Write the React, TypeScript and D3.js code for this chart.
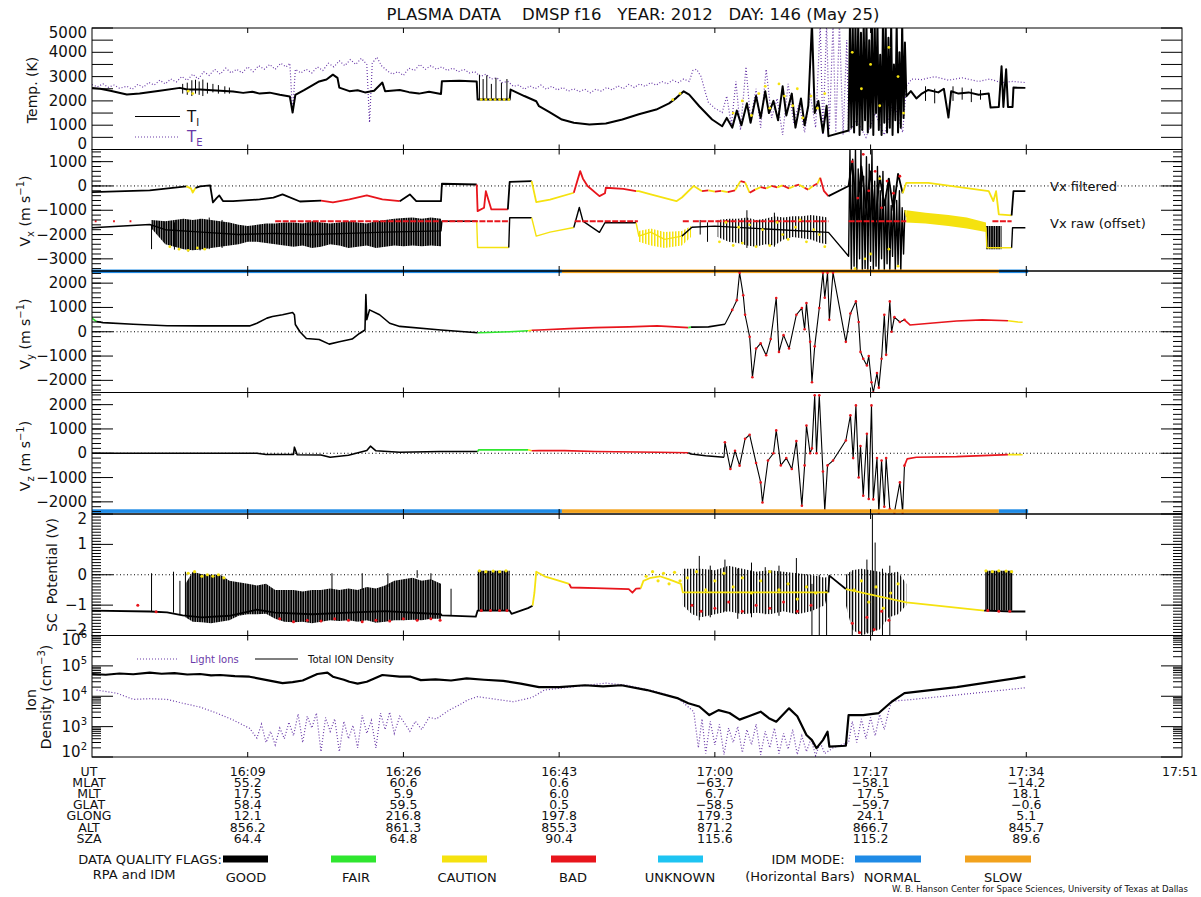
import React from 'react';
import * as d3 from 'd3';

type Pt = [number, number];
type FPt = [number, number, number];
type Band = [number, number, number];

// ---------------------------------------------------------------------------
// Time base: all times are minutes after 15:52 UT; the plot spans 119 minutes.
// ---------------------------------------------------------------------------
const T_SPAN = 119;
const UT_TICKS = [17, 34, 51, 68, 85, 102];

// Ephemeris table below the plot
const UT_LABELS = ['16:09', '16:26', '16:43', '17:00', '17:17', '17:34'];
const UT_END_LABEL = '17:51';
const MLAT = ['55.2', '60.6', '0.6', '\u221263.7', '\u221258.1', '\u221214.2'];
const MLT = ['17.5', '5.9', '6.0', '6.7', '17.5', '18.1'];
const GLAT = ['58.4', '59.5', '0.5', '\u221258.5', '\u221259.7', '\u22120.6'];
const GLONG = ['12.1', '216.8', '197.8', '179.3', '24.1', '5.1'];
const ALT = ['856.2', '861.3', '855.3', '871.2', '866.7', '845.7'];
const SZA = ['64.4', '64.8', '90.4', '115.6', '115.2', '89.6'];

// Data quality flags: 0 good, 1 fair, 2 caution, 3 bad, 4 good line with bad samples
const QUALITY_NAMES = ['GOOD', 'FAIR', 'CAUTION', 'BAD', 'UNKNOWN'];
const IDM_NAMES = ['NORMAL', 'SLOW'];

// IDM mode intervals [start, end, mode index]
const IDM_MODE: FPt[] = [[0, 51.3, 0], [51.3, 99, 1], [99, 102.2, 0]];

// ------------------------------- Temperature -------------------------------
const TI: Pt[] = [
  [0, 2536], [0.9, 2500], [2, 2420], [3.8, 2260], [5.2, 2300], [7.4, 2420], [9.6, 2536], [10.4, 2470],
  [11.8, 2466], [14, 2420], [15.4, 2384], [16.5, 2330], [17.5, 2380], [18.3, 2300], [19.4, 2340], [20.5, 2250],
  [21.6, 2180], [21.9, 1520], [22.2, 2250],
  [23.2, 2450], [24.1, 2650], [24.8, 2800], [25.6, 2880], [26.3, 3080], [26.8, 2950], [27, 2548], [28.1, 2400],
  [29, 2440], [29.8, 2350], [30.8, 2420], [31.7, 2754], [32, 2400], [33.6, 2450], [34.6, 2360], [35.7, 2300],
  [36.8, 2380], [38.1, 2280], [38.2, 2807],
  [40.1, 2830], [42, 2800], [42.1, 2055], [45.6, 2055], [45.7, 2466], [47.2, 2200], [48.5, 1985], [48.8, 1780],
  [49.9, 1550], [51.3, 1233], [52.6, 1100], [54.3, 1028], [56.1, 1069], [57.9, 1233], [59.7, 1450], [61.6, 1644],
  [63, 1900], [63.8, 2125], [64.6, 2396], [65.2, 2260], [66.3, 1780], [67.7, 1233], [68.8, 958],
  [69.3, 1300], [69.9, 900], [70.4, 1600], [70.9, 1000], [71.5, 1900], [71.9, 1100], [72.5, 2200], [73, 1300],
  [73.5, 2400], [73.9, 1500], [74.4, 2000], [74.9, 1200], [75.4, 2600], [75.8, 1400], [76.4, 2300], [76.8, 900],
  [77.4, 2100], [77.8, 1000], [78.2, 1800], [78.6, 5200], [78.9, 1500], [79.3, 2000], [79.8, 700], [80.2, 1800],
  [80.4, 550], [82.6, 780],
  [82.75, 5200], [82.9, 900], [83.05, 5200], [83.2, 700], [83.35, 5200], [83.5, 1000], [83.65, 5200],
  [83.8, 600], [83.95, 4800], [84.1, 800], [84.25, 5200], [84.4, 1200], [84.55, 5200], [84.7, 700],
  [84.85, 4500], [85, 900], [85.15, 5200], [85.3, 600], [85.45, 5200], [85.6, 1500], [85.75, 5200],
  [85.9, 800], [86.05, 3900], [86.2, 600], [86.35, 5200], [86.5, 1100], [86.65, 5200], [86.8, 700],
  [86.95, 4600], [87.1, 900], [87.25, 5200], [87.4, 600], [87.55, 3500], [87.7, 1200], [87.85, 5200],
  [88, 700], [88.15, 4000], [88.3, 900], [88.45, 5200], [88.6, 1300], [88.75, 4400], [88.9, 2190],
  [89.4, 2400], [90, 2100], [90.6, 2300], [91.3, 2450], [92.4, 2350], [93, 2500], [93.5, 1315], [93.8, 2400],
  [94.6, 2300], [95.7, 2350], [96.8, 2250], [97.9, 2300], [98.1, 1726], [99, 1750], [99.3, 3424], [99.5, 1750],
  [99.8, 3300], [100, 1750], [100.5, 1750], [100.6, 2548], [101.9, 2536],
];

const TI_SPIKES: Band[] = [
  [9.9, 2300, 2700], [10.4, 2250, 2750], [10.9, 2200, 2850], [11.3, 2300, 2870], [11.7, 2250, 2800],
  [12.1, 2200, 2880], [12.6, 2300, 2750], [13.2, 2350, 2700], [13.8, 2300, 2650], [14.5, 2300, 2600],
  [15, 2300, 2550],
  [42.3, 2055, 3080], [42.7, 2055, 2900], [43.1, 2055, 3050], [43.6, 2055, 2700], [44.1, 2055, 2950],
  [44.7, 2055, 2750], [45.3, 2055, 2900],
  [91, 2000, 2600], [92, 1900, 2500], [94, 2000, 2600], [95, 2050, 2550], [96, 1950, 2500], [97, 2050, 2450],
];

const TE: Pt[] = [
  [0, 2672], [0.6, 2580], [1.2, 2700], [1.8, 2560], [2.4, 2650], [3, 2520], [3.8, 2600], [4.4, 2480], [5, 2680],
  [5.6, 2560], [6.2, 2760], [6.8, 2650], [7.4, 2850], [8, 2700], [8.6, 2900], [9.2, 2780], [9.8, 3000], [10.4, 2850],
  [11, 3100], [11.6, 2900], [12.2, 3200], [12.8, 3050], [13.4, 3300], [14, 3100], [14.6, 3350], [15.2, 3150],
  [15.8, 3300], [16.4, 3150], [17, 3400], [17.6, 3200], [18.2, 3450], [18.8, 3300], [19.4, 3500], [20, 3300],
  [20.6, 3550], [21.2, 3400], [21.6, 3550], [21.9, 1520], [22.2, 3300], [22.8, 3150], [23.4, 3300], [24, 3150],
  [24.6, 3400], [25.2, 3250], [25.8, 3550], [26.4, 3400], [27, 3650], [27.6, 3450], [28.2, 3700], [28.8, 3500],
  [29.4, 3750], [30, 3500], [30.3, 1110], [30.6, 3550], [31.1, 3800], [31.6, 3450], [32.2, 3250], [32.8, 3100],
  [33.4, 3200], [34, 3050], [34.6, 3350], [35.2, 3250], [35.8, 3500], [36.4, 3300], [37, 3450], [37.6, 3300],
  [38.2, 3400], [38.8, 3250], [39.4, 3350], [40, 3200], [40.6, 3300], [41.2, 3150], [41.8, 3200], [42.4, 3000],
  [43, 3100], [43.6, 2900], [44.2, 2950], [44.8, 2750], [45.4, 2800], [46, 2600], [46.6, 2650], [47.2, 2480],
  [47.8, 2620], [48.4, 2500], [49, 2650], [49.6, 2480], [50.2, 2600], [50.8, 2450], [51.4, 2550], [52, 2400],
  [52.6, 2500], [53.2, 2380], [53.8, 2480], [54.4, 2330], [55, 2480], [55.6, 2400], [56.2, 2550], [56.8, 2450],
  [57.4, 2620], [58, 2500], [58.6, 2680], [59.2, 2550], [59.8, 2700], [60.4, 2600], [61, 2750], [61.6, 2650],
  [62.2, 2800], [62.8, 2700], [63.4, 2850], [64, 2750], [64.6, 2900], [65.2, 2800], [65.6, 3250], [66, 3300],
  [66.5, 3000], [67, 2300], [67.3, 1932], [68, 1700], [68.8, 1520],
  [69.3, 2200], [69.8, 1000], [70.3, 2800], [70.8, 800], [71.4, 3400], [71.9, 1200], [72.5, 2500], [73, 900],
  [73.6, 3300], [74.2, 1300], [74.8, 2100], [75.4, 600], [76, 2700], [76.6, 1100], [77.2, 1900], [77.8, 700],
  [78.4, 2300], [79, 900], [79.5, 5200], [79.8, 600], [80.2, 5200], [80.5, 800], [80.9, 5200], [81.2, 700],
  [81.6, 5200], [82, 600], [82.4, 4500], [82.6, 700],
  [83.5, 1200], [84.5, 500], [85.5, 1500], [86.5, 600], [87.5, 2000], [88.5, 700], [88.9, 2600], [89.5, 2900],
  [90.6, 2877], [92, 3000], [93.5, 2850], [95, 2950], [96.8, 2800], [98, 2900], [99.3, 2750], [100.5, 2800],
  [101.9, 2754],
];

const TI_CAUTION: Pt[] = [
  [10.5, 2400], [11, 2300], [42.5, 2055], [43, 2055], [43.5, 2055], [44, 2055], [44.5, 2055], [45, 2055],
  [45.5, 2055], [63.4, 2050], [64.2, 2300], [70, 1500], [71, 2000], [72, 1400], [72.8, 2300], [73.5, 2600],
  [74, 1700], [75, 2700], [75.6, 2200], [76.5, 1800], [77, 2500], [77.6, 1300], [78.5, 2200], [79.2, 1700],
  [80, 2300], [83, 4000], [84, 2500], [85, 3500], [86, 1800], [87, 4200], [88, 3000], [88.6, 1500],
];

// ------------------------------------ Vx ------------------------------------
const VX_FILTERED: FPt[] = [
  [0, -255, 0], [6.3, -185, 0], [10.3, -20, 0], [10.8, -100, 2], [11, -270, 2], [11.3, -80, 2], [11.8, -20, 0],
  [12.9, 20, 0], [13.2, -680, 0], [13.6, -500, 0], [13.9, -390, 0], [14.3, -620, 0], [15.4, -625, 0],
  [18.3, -555, 0], [19.8, -480, 0], [20.8, -350, 0], [22.7, -640, 0], [25, -600, 0], [26.3, -680, 3],
  [28.1, -555, 3], [30, -390, 3], [31.7, -555, 3], [33.6, -625, 3], [34.7, -350, 0], [35.4, -625, 0],
  [38.1, -625, 0], [38.2, 90, 0], [42, 60, 0], [42.1, -1035, 3], [42.8, -900, 3], [43, -215, 3], [43.3, -600, 3],
  [43.6, -965, 3], [45.4, -965, 3], [45.6, 170, 0], [48, 200, 0], [48.5, -665, 2], [50, -560, 2], [52.6, -280, 2],
  [53.3, 610, 3], [53.6, 300, 3], [54.1, 0, 3], [55.4, -420, 3], [56, -300, 3], [56.1, -75, 3], [58, -120, 3],
  [59.4, -215, 3], [59.7, -215, 2], [61, -350, 2], [63.8, -625, 2], [64.4, -475, 2], [65.7, 0, 2], [66.6, -215, 2],
  [67.3, -180, 3], [68, -230, 2], [68.7, -200, 3], [69.4, -250, 2], [70.2, -180, 3], [70.8, 200, 2], [71.3, 150, 3],
  [71.8, -280, 2], [72.4, -150, 3], [73, -50, 2], [73.6, -100, 3], [74.2, 0, 2], [74.8, -60, 3], [75.4, 20, 2],
  [76.1, -100, 3], [76.7, 0, 2], [77.2, 50, 3], [77.8, -80, 2], [78.2, -150, 3], [78.7, 0, 2], [79.2, 100, 3],
  [79.5, 340, 2], [79.9, -200, 3], [80.4, -420, 3], [82.6, 0, 0],
  [83, 1000, 0], [83.5, -1200, 0], [84, 800, 0], [84.5, -900, 0], [85, 600, 0], [85.5, -1500, 0], [86, 400, 0],
  [86.5, -800, 0], [87, 300, 0], [87.5, -1000, 0], [88, 500, 0], [88.5, -300, 0],
  [88.9, 130, 2], [91.3, 130, 2], [97.9, -215, 2], [98.4, -625, 2], [98.7, -215, 2], [99, -1170, 2],
  [100.4, -1215, 2], [100.6, -215, 0], [101.9, -215, 0],
];

const VX_RAW: FPt[] = [
  [0, -1720, 0], [6.3, -1585, 0], [8, -1800, 0], [12, -1900, 0], [16, -2000, 0], [20, -1950, 0], [24, -2000, 0],
  [28, -1950, 0], [32, -1900, 0], [38.1, -1850, 0], [38.2, -1450, 0], [42, -1450, 0], [42.1, -2530, 2],
  [45.5, -2530, 2], [45.6, -1310, 0], [48, -1310, 0], [48.5, -2065, 2], [50, -1900, 2], [52.6, -1710, 2],
  [53.2, -885, 0], [53.6, -1450, 0], [55.4, -1910, 0], [56, -1515, 0], [59.4, -1515, 0], [59.7, -2065, 2],
  [61, -1900, 2], [62.5, -2200, 2], [64.4, -2065, 2], [65.5, -1700, 0], [68, -1655, 0], [80.4, -1910, 0],
  [82.6, -2890, 0],
  [82.75, 1500, 0], [82.9, -3500, 0], [83.05, 1100, 0], [83.2, -3300, 0], [83.35, 1500, 0], [83.5, -3500, 0],
  [83.65, 700, 0], [83.8, -3000, 0], [83.95, 1500, 0], [84.1, -3500, 0], [84.25, 400, 0], [84.4, -3400, 0],
  [84.55, 1200, 0], [84.7, -3500, 0], [84.85, 900, 0], [85, -3100, 0], [85.15, 1500, 0], [85.3, -3500, 0],
  [85.45, 200, 0], [85.6, -3300, 0], [85.75, 800, 0], [85.9, -3500, 0], [86.05, -200, 0], [86.2, -3000, 0],
  [86.35, 600, 0], [86.5, -3500, 0], [86.65, -400, 0], [86.8, -3200, 0], [86.95, 300, 0], [87.1, -3500, 0],
  [87.25, -800, 0], [87.4, -2900, 0], [87.55, 0, 0], [87.7, -3500, 0], [87.85, -600, 0], [88, -3300, 0],
  [88.15, -200, 0], [88.3, -3500, 0], [88.45, -900, 0], [88.6, -2800, 0], [88.75, -1000, 0],
  [88.9, -1245, 2], [97.6, -1720, 2], [97.7, -2545, 2], [100.4, -2545, 2], [100.5, -1720, 0], [101.9, -1720, 0],
];

const VX_RAW_BAND: Band[] = [
  [6.5, -1750, -1400], [8, -2400, -1450], [10, -2600, -1350], [11, -2650, -1400], [12, -2600, -1350],
  [13, -2550, -1400], [14, -2500, -1450], [15, -2450, -1500], [16, -2400, -1600], [17, -2300, -1650],
  [18, -2300, -1600], [19, -2350, -1550], [20, -2400, -1550], [21, -2450, -1500], [22, -2500, -1500],
  [23, -2450, -1550], [24, -2550, -1450], [25, -2500, -1500], [26, -2400, -1550], [27, -2450, -1500],
  [28, -2550, -1450], [29, -2500, -1500], [30, -2450, -1550], [31, -2550, -1450], [32, -2500, -1400],
  [33, -2450, -1350], [34, -2480, -1320], [35, -2450, -1300], [36, -2480, -1350], [37, -2450, -1300],
  [38.1, -2480, -1350],
];
const VX_RAW_NOISE: Band[] = [
  [68.3, -2100, -1400], [69.5, -2300, -1350], [70.5, -2350, -1350], [71.5, -2450, -1300], [72.5, -2500, -1400],
  [73.5, -2400, -1350], [74.5, -2450, -1250], [75.5, -2200, -1300], [76.5, -2100, -1250], [77.5, -2150, -1250],
  [78.5, -2200, -1200], [79.5, -2350, -1250], [80.3, -2400, -1300],
];
const VX_RAW_CAUTION_NOISE: Band[] = [
  [59.7, -2300, -1850], [61, -2450, -1750], [62.5, -2550, -1900], [64.4, -2450, -1850], [65.4, -2100, -1650],
];
const VX_RAW_BLOCK: Band[] = [[97.6, -2610, -1650], [99.3, -2610, -1650]];
const VX_RAW_CAUTION_BAND: Band[] = [
  [88.9, -1500, -1000], [91, -1550, -1100], [93.5, -1650, -1200], [95.5, -1750, -1300], [97.6, -1900, -1500],
];

const VX_RAW_SPIKES: Band[] = [
  [6.5, -2600, -1600], [9, -2620, -1500], [10.5, -2700, -1400], [11.8, -2650, -1350], [12.8, -2600, -1300],
  [14.2, -2550, -1400], [71.5, -2550, -1000], [74.5, -2500, -1100], [67.2, -2300, -1500], [66.4, -2000, -1400],
];

const VX_CAUTION_DOTS: Pt[] = [
  [8.5, -2500], [9.5, -2600], [10.5, -2650], [11.5, -2550], [12.3, -2600], [68.5, -2300], [69.2, -1500],
  [70, -2450], [70.6, -1700], [71, -2350], [71.8, -1600], [72.5, -2500], [73.2, -1800], [74, -2450],
  [74.8, -1500], [75.4, -2000], [76, -2200], [76.8, -1700], [77.3, -1400], [78, -2300], [78.8, -1800],
  [79.4, -2000], [80, -2500], [83.3, -3400], [84.4, -3000], [85, -2800], [86, 300], [87, -2600], [88, -3300],
];

const VX_BAD_DOTS: Pt[] = [
  [83, 1000], [83.6, -500], [84.2, 1300], [84.8, -200], [85.5, 600], [86.2, -900], [86.8, 200], [87.5, -300],
  [88.2, 400],
];

// raw samples flagged bad, drawn at the offset baseline of -1450 m/s
const VX_RAW_BAD_LEVEL = -1450;
const VX_RAW_BAD_SPANS: Pt[] = [
  [0.3, 0.5], [2.3, 2.5], [4.1, 4.3], [20, 38], [38.2, 45.6], [52.7, 59.6], [64.5, 65.2], [65.6, 80.4],
  [82.6, 88.9], [98.3, 100.4],
];

// ------------------------------------ Vy ------------------------------------
const VY: FPt[] = [
  [0, 560, 1], [0.5, 420, 1], [1.2, 375, 0], [4.5, 310, 0], [8.2, 250, 0], [11.8, 240, 0], [17.2, 240, 0],
  [18, 350, 0], [19.1, 560, 0], [19.7, 625, 0], [20.8, 700, 0], [21.9, 790, 0], [22.1, 700, 0], [22.2, 300, 0],
  [22.7, 0, 0], [23.4, -275, 0], [24.8, -320, 0], [25.9, -510, 0], [27, -415, 0], [28.4, -300, 0], [29.2, -70, 0],
  [29.8, 70, 0], [29.9, 1530, 0], [30, 500, 0], [30.3, 900, 0], [31.4, 700, 0], [32.5, 350, 0], [33.6, 220, 0],
  [38.1, 70, 0], [42.1, -40, 0], [43.2, -30, 1], [45.6, 0, 1], [47.6, 40, 1], [48, 60, 2], [48.8, 70, 3],
  [52.1, 130, 3], [54.9, 170, 3], [58.6, 200, 3], [61.7, 240, 3], [65.1, 170, 3], [65.4, 190, 1], [67.3, 200, 0],
  [69.1, 310, 0],
  [69.9, 900, 4], [70.4, 1300, 4], [70.7, 2430, 4], [71.1, 1500, 4], [71.3, 700, 4], [71.8, -210, 4],
  [72.1, -1875, 4], [72.5, -690, 4], [73, -480, 4], [73.6, -970, 4], [74.1, -300, 4], [74.7, 1390, 4],
  [75, -830, 4], [75.5, -140, 4], [76.1, -690, 4], [76.9, 700, 4], [77.5, 975, 4], [77.8, 100, 4], [78, 1180, 4],
  [78.4, -415, 4], [78.6, -2080, 4], [78.9, -600, 4], [79.4, 975, 4], [79.8, 2430, 4], [80, 1400, 4],
  [80.3, 2430, 4], [80.5, 490, 4], [80.9, 2430, 4], [82.3, -415, 4], [82.8, 750, 4], [83.4, 1250, 4],
  [83.7, 400, 4], [83.9, -830, 4], [84.2, -1110, 4], [84.6, -1390, 4], [84.8, -1000, 4], [85.1, -2080, 4],
  [85.3, -2500, 4], [85.7, -1700, 4], [85.9, -2300, 4], [86.2, -1110, 4], [86.5, 700, 4], [86.7, -950, 4],
  [87.1, 1250, 4], [87.3, 0, 4], [87.6, 600, 4], [88.2, 400, 4], [88.7, 490, 4], [89.3, 280, 3], [91.5, 350, 3],
  [94.4, 445, 3], [97.2, 490, 3], [100, 450, 3], [101.1, 400, 2], [101.6, 390, 2],
];

// ------------------------------------ Vz ------------------------------------
const VZ: FPt[] = [
  [0, 0, 1], [1.2, 0, 0], [18, 0, 0], [19, -50, 0], [22, -50, 0], [22.1, 250, 0], [22.4, -60, 0], [25, -70, 0],
  [26, -165, 0], [28, -80, 0], [30, 110, 0], [30.4, 290, 0], [31, 100, 0], [33.6, 40, 0], [38, 70, 0],
  [42.1, 70, 0], [42.2, 140, 1], [47.6, 140, 1], [48, 100, 2], [48.8, 110, 3], [51.6, 110, 3], [54.9, 70, 3],
  [61.7, 40, 3], [65.1, 20, 3], [65.4, -30, 0], [67, -100, 0], [69, -165, 0],
  [69.1, 455, 4], [69.7, -650, 4], [70.2, 100, 4], [70.7, -510, 4], [71.3, 595, 4], [71.8, 760, 4],
  [72.5, -400, 4], [73, -1200, 4], [73.2, -2025, 4], [73.8, -300, 4], [74.4, 0, 4], [74.7, 940, 4],
  [75.2, -500, 4], [75.8, -200, 4], [76.4, -650, 4], [76.9, 500, 4], [77.5, -2160, 4], [77.8, -500, 4],
  [78, 1145, 4], [78.4, 0, 4], [78.6, 200, 4], [78.9, 2385, 4], [79.1, 0, 4], [79.4, 2385, 4], [79.8, -750, 4],
  [80, -2370, 4], [80.3, -500, 4], [80.9, -300, 4], [82.3, 525, 4], [82.8, 1560, 4], [83.1, -200, 4],
  [83.4, 1970, 4], [83.7, -1000, 4], [83.9, 300, 4], [84.2, -1750, 4], [84.6, 800, 4], [84.8, -1885, 4],
  [85.1, 1970, 4], [85.3, -1900, 4], [85.7, -200, 4], [85.9, -2440, 4], [86.2, -300, 4], [86.5, -2200, 4],
  [86.7, -200, 4], [87.1, -2300, 4], [87.6, -2440, 4], [88.2, -1200, 4], [88.5, -2440, 4], [88.7, -510, 4],
  [89, -230, 3], [90, -165, 3], [94.4, -140, 3], [100, -55, 3], [101.6, -60, 2],
];

// ------------------------------ SC potential -------------------------------
const SC_POT: FPt[] = [
  [0, -1.18, 0], [6.3, -1.21, 0], [8.2, -1.24, 0], [9.9, -1.34, 0], [12, -1.4, 0], [15, -1.35, 0], [18, -1.15, 0],
  [20, -1.25, 0], [24, -1.3, 0], [28, -1.25, 0], [32, -1.2, 0], [38.1, -1.3, 0], [38.2, -1.34, 0],
  [41.9, -1.38, 0], [42.1, -1.18, 0], [45.6, -1.18, 0], [45.8, -1.29, 0], [47.6, -1.1, 0], [48.1, -1.02, 0],
  [48.3, -0.6, 2], [48.5, 0.1, 2], [49.4, -0.05, 2], [50.5, -0.15, 2], [52.1, -0.3, 2], [52.3, -0.42, 3],
  [55, -0.44, 3], [58.6, -0.47, 3], [59, -0.59, 3], [59.4, -0.46, 3], [59.9, -0.45, 3], [60.2, -0.2, 2],
  [61, -0.1, 2], [62, -0.05, 2], [63, -0.15, 2], [64.3, -0.3, 2], [64.5, -0.58, 2], [80.4, -0.58, 2],
  [80.5, -0.03, 0], [82.3, -0.47, 0], [88.9, -0.91, 2], [97.4, -1.18, 2], [97.5, -1.18, 0], [100.5, -1.21, 0],
  [101.9, -1.21, 0],
];

const SC_BAND: Band[] = [
  [10.2, -1.4, -0.3], [11, -1.55, 0.1], [12, -1.56, 0.02], [13, -1.6, 0], [14, -1.55, 0], [15, -1.5, -0.2],
  [16, -1.35, -0.25], [17, -1.3, -0.3], [18, -1.3, -0.35], [19, -1.28, -0.3], [20, -1.45, -0.5],
  [21, -1.55, -0.5], [22, -1.56, -0.5], [23, -1.55, -0.55], [24, -1.6, -0.5], [25, -1.55, -0.5],
  [26, -1.5, -0.45], [27, -1.52, -0.5], [28, -1.5, -0.45], [29, -1.55, -0.5], [30, -1.5, -0.4],
  [31, -1.58, -0.45], [32, -1.55, -0.35], [33, -1.5, -0.2], [34, -1.5, -0.15], [35, -1.48, -0.1],
  [36, -1.5, -0.2], [37, -1.45, -0.15], [38.1, -1.45, -0.3],
];
const SC_BLOCK_A: Band[] = [[42.1, -1.18, 0.13], [45.6, -1.18, 0.13]];
const SC_BLOCK_B: Band[] = [[97.5, -1.18, 0.13], [100.5, -1.18, 0.13]];
const SC_NOISE_A: Band[] = [
  [64.5, -1.0, 0.2], [65.5, -1.3, 0.2], [66.5, -1.4, 0.2], [68, -1.3, 0.15], [69.5, -1.2, 0.3], [71, -1.3, 0.2],
  [72.5, -1.25, 0.1], [74, -1.3, 0.15], [75.5, -1.2, 0.1], [77, -1.3, 0.05], [78.5, -1.2, 0], [80, -1.0, -0.1],
  [80.4, -0.5, -0.05],
];
const SC_NOISE_B: Band[] = [
  [82.3, -1.0, 0], [83, -1.8, 0.15], [84, -2.0, 0.2], [85, -1.9, 0.15], [86, -1.8, 0.1], [87, -1.4, 0.05],
  [88, -1.3, 0.1], [88.9, -1.0, -0.3],
];
const SC_SPIKES: Band[] = [
  [6.5, -1.2, 0.05], [8.9, -1.25, 0.1], [9.6, -1.3, -0.2], [10.2, -1.35, 0.1], [26.2, -0.5, 0.05],
  [29.5, -0.5, 0.05], [32.3, -0.4, 0.05], [35.5, -0.1, 0.15], [37, -0.2, 0.05], [39.2, -1.36, -0.46],
  [66.3, -1.5, 0.62], [67.5, -1.4, 0.3], [69.1, -1.2, 0.5], [70.5, -1.45, 0.2], [72, -1.4, 0.4],
  [73.5, -1.3, 0.25], [75, -1.35, 0.3], [76.9, -1.3, 0.55], [78.6, -2.0, -0.3], [79.4, -2.1, 0],
  [80.2, -2.1, -0.5], [83, -2.0, 0.1], [84.6, -1.9, 0.5], [85.2, -2.1, 2.05], [85.5, -1.8, 1.06],
  [86.3, -2.1, 0.2], [87.1, -2.1, 0.3],
];
const SC_CAUTION_DOTS: Pt[] = [
  [10.5, 0.05], [11.2, 0.1], [12, -0.05], [12.6, 0], [13.2, -0.05], [13.8, 0], [14.4, -0.1], [42.3, 0.13],
  [43, 0.1], [43.8, 0.12], [44.5, 0.1], [45.2, 0.13], [60.5, -0.05], [61.2, 0.1], [61.8, -0.2], [62.4, 0.05],
  [63, -0.3], [63.6, 0.08], [64.2, -0.2], [65, -0.1], [66, 0.1], [67, -0.5], [68, -0.2], [69, 0.05], [70, -0.4],
  [71, -0.1], [72, -0.6], [73, -0.2], [74, 0.1], [75, -0.5], [76, -0.3], [77, -0.8], [78, -0.4], [79, -0.6],
  [83.2, -0.5], [84, -0.2], [84.8, -0.9], [85.6, -0.4], [86.4, -1.1], [87.2, -0.6], [88, -0.3], [97.6, 0.13],
  [98.3, 0.1], [99, 0.13], [99.8, 0.12], [100.4, 0.1],
];
const SC_BAD_DOTS: Pt[] = [
  [5, -1.0], [7, -1.22], [20.5, -1.45], [22, -1.55], [23.5, -1.5], [25, -1.52], [26.5, -1.45], [28, -1.5],
  [29.5, -1.55], [31, -1.5], [32.5, -1.52], [34, -1.45], [35.5, -1.5], [37, -1.45], [38, -1.5], [42.5, -1.18],
  [43.5, -1.18], [44.5, -1.18], [45.3, -1.18], [65.5, -1.0], [66.5, -1.2], [68, -1.1], [69.5, -0.9],
  [71, -1.2], [72.5, -1.0], [74, -1.1], [75.5, -0.9], [77, -1.2], [78.5, -1.0], [83, -1.6], [83.8, -1.9],
  [84.6, -1.4], [85.4, -1.8], [86.2, -1.2], [87, -1.5], [97.8, -1.18], [99, -1.2], [100.2, -1.2],
];

// ------------------------------- Ion density -------------------------------
const N_TOTAL: Pt[] = [
  [0, 5.4e4], [1.5, 5.1e4], [3, 5.6e4], [4.5, 5.3e4], [6.3, 6.0e4], [7.6, 5.5e4], [9, 5.8e4], [10.4, 5.2e4],
  [11.8, 5.4e4], [13, 4.9e4], [14, 5.0e4], [15.6, 4.6e4], [17.2, 4.4e4], [19.1, 3.4e4],
  [20.8, 2.7e4], [21.9, 2.9e4], [23, 3.3e4], [24.6, 5.4e4], [25.7, 6.0e4], [26.3, 4.4e4], [27.5, 3.5e4],
  [28.1, 3.0e4], [29, 2.6e4], [30, 3.0e4], [31.7, 5.0e4], [33.6, 4.4e4], [34.8, 4.4e4], [35.9, 3.4e4],
  [37.5, 3.6e4], [39.2, 3.3e4], [40.9, 3.9e4], [42.8, 3.5e4], [44.9, 3.2e4], [46.8, 2.6e4], [48.8, 2.0e4],
  [51, 2.0e4], [53.8, 2.3e4], [55.8, 2.1e4], [57.8, 2.3e4], [60.6, 1.6e4],
  [64, 8.5e3], [65.1, 5.9e3], [66.3, 4.6e3], [67.4, 2.4e3], [68.4, 3.5e3], [69.6, 2.8e3], [70.7, 1.7e3],
  [71.7, 2.2e3], [73, 3.1e3], [73.9, 1.9e3], [74.7, 1.45e3], [76.1, 4.0e3], [77, 2.2e3], [78, 530], [78.6, 360],
  [79.1, 195], [79.8, 360], [80.3, 680], [80.5, 220], [82.3, 235], [82.6, 2.4e3], [84.2, 2.4e3], [85.9, 2.8e3],
  [87.3, 6.6e3], [88.7, 1.26e4], [94.4, 2.0e4], [101.9, 4.4e4],
];

const N_LIGHT: Pt[] = [
  [0.5, 1.6e4], [2.7, 1.26e4], [4.5, 7.9e3], [6.3, 8.3e3], [8.2, 7.9e3], [9.9, 5.9e3], [11.8, 4.4e3],
  [13.6, 2.8e3], [15.4, 1.66e3], [17.2, 880], [18, 420], [18.5, 1200], [19, 300], [19.5, 700], [20, 250],
  [20.5, 900], [21, 400], [21.5, 1400], [22, 500], [22.5, 2600], [23, 300], [23.5, 2200], [24, 900],
  [24.5, 2800], [25, 150], [25.5, 2000], [26, 700], [26.5, 1800], [27, 150], [27.5, 1500], [28, 400],
  [28.5, 1100], [29, 200], [29.5, 2400], [30, 600], [30.5, 1600], [31, 200], [31.5, 2800], [32, 800],
  [32.5, 3000], [33, 600], [33.6, 2200], [34.2, 1200], [34.7, 700], [35.3, 1500], [36, 800], [36.8, 2000],
  [37.6, 1800], [38.2, 2400], [39, 3500], [40, 5000], [41, 7500], [42.1, 9700], [44, 8000], [46, 6600],
  [48, 9000], [49.4, 1.6e4], [52.2, 2.0e4], [56.1, 2.7e4], [58.4, 2.3e4], [61.7, 1.4e4], [64, 8.5e3],
  [65.7, 3.1e3], [66.2, 200], [66.6, 1800], [67, 130], [67.5, 1500], [68, 250], [68.5, 1200], [69, 120],
  [69.5, 900], [70, 300], [70.5, 1000], [71, 140], [71.5, 800], [72, 250], [72.5, 1200], [73, 120], [73.5, 700],
  [74, 200], [74.5, 900], [75, 130], [75.5, 600], [76, 180], [76.5, 800], [77, 120], [77.5, 500], [78, 150],
  [78.5, 400], [79, 110], [79.5, 300], [80, 130], [80.9, 200], [82.6, 300], [83, 1500], [83.5, 300],
  [84, 1800], [84.5, 400], [85, 2000], [85.5, 500], [86, 2500], [86.5, 800], [87, 3500], [87.3, 6.9e3],
  [88.7, 7.4e3], [94.4, 1.1e4], [101.9, 1.9e4],
];

// ---------------------------------------------------------------------------
const FONT = 'DejaVu Sans, Verdana, sans-serif';
const FLAG_COLOR = ['#000000', '#2fe62f', '#f5e20f', '#e8151c', '#000000'];
const UNKNOWN_COLOR = '#1ec4f2';
const IDM_COLOR = ['#1f8be6', '#f2a21d'];
const LIGHT_ION_COLOR = '#6a3aa8';

const X0 = 92;
const X1 = 1182;
const PANELS = [
  { id: 'temp', top: 28, bottom: 149.5 },
  { id: 'vx', top: 149.5, bottom: 271 },
  { id: 'vy', top: 271, bottom: 392.5 },
  { id: 'vz', top: 392.5, bottom: 514 },
  { id: 'sc', top: 514, bottom: 635.5 },
  { id: 'n', top: 635.5, bottom: 757 },
];

export default function App() {
  const x = d3.scaleLinear().domain([0, T_SPAN]).range([X0, X1]);
  const yTemp = d3.scaleLinear().domain([0, 5000]).range([149.5, 28]);
  const yVx = d3.scaleLinear().domain([-3500, 1500]).range([271, 149.5]);
  const yVy = d3.scaleLinear().domain([-2500, 2500]).range([392.5, 271]);
  const yVz = d3.scaleLinear().domain([-2500, 2500]).range([514, 392.5]);
  const ySc = d3.scaleLinear().domain([-2, 2]).range([635.5, 514]);
  const yN = d3.scaleLog().domain([1e2, 1e6]).range([757, 635.5]);

  const line = (y: (v: number) => number, data: Pt[]) =>
    d3.line<Pt>().x((d) => x(d[0])).y((d) => y(d[1]))(data) || '';
  const area = (y: (v: number) => number, data: Band[]) =>
    d3.area<Band>().x((d) => x(d[0])).y0((d) => y(d[1])).y1((d) => y(d[2]))(data) || '';

  // split a flagged series into runs drawn in the colour of their flag
  const flagged = (y: (v: number) => number, data: FPt[], key: string, width: number, mixedWidth = width) => {
    const runs: { f: number; pts: Pt[] }[] = [];
    let cur: { f: number; pts: Pt[] } | null = null;
    for (let i = 1; i < data.length; i++) {
      const f = data[i][2];
      if (!cur || cur.f !== f) {
        cur = { f, pts: [[data[i - 1][0], data[i - 1][1]]] };
        runs.push(cur);
      }
      cur.pts.push([data[i][0], data[i][1]]);
    }
    return runs.map((r, i) => (
      <path key={`${key}${i}`} d={line(y, r.pts)} fill="none" stroke={FLAG_COLOR[r.f]}
        strokeWidth={r.f === 4 ? mixedWidth : width} strokeLinejoin="round" />
    ));
  };
  const badMarks = (y: (v: number) => number, data: FPt[], key: string) =>
    data.filter((d) => d[2] === 4).map((d, i) => (
      <circle key={`${key}${i}`} cx={x(d[0])} cy={y(d[1])} r={1.3} fill={FLAG_COLOR[3]} />
    ));
  const dots = (y: (v: number) => number, data: Pt[], color: string, key: string, r = 1.4) =>
    data.map((d, i) => <circle key={`${key}${i}`} cx={x(d[0])} cy={y(d[1])} r={r} fill={color} />);
  const spikes = (y: (v: number) => number, data: Band[], key: string, color = '#000', w = 1) =>
    data.map((d, i) => (
      <line key={`${key}${i}`} x1={x(d[0])} x2={x(d[0])} y1={y(d[1])} y2={y(d[2])} stroke={color} strokeWidth={w} />
    ));

  // ---- axes ----
  const range = (a: number, b: number, s: number) => {
    const out: number[] = [];
    for (let v = a; v <= b + s * 1e-6; v += s) out.push(Math.round(v * 1000) / 1000);
    return out;
  };
  type AxisSpec = {
    y: (v: number) => number; top: number; bottom: number; major: number[]; minor: number[];
    labels: { v: number; node: React.ReactNode }[];
  };
  const minus = (v: number) => (v < 0 ? '\u2212' + Math.abs(v) : String(v));
  const axes: AxisSpec[] = [
    { y: yTemp, top: 28, bottom: 149.5, major: range(0, 5000, 500), minor: [],
      labels: range(0, 5000, 1000).map((v) => ({ v, node: String(v) })) },
    { y: yVx, top: 149.5, bottom: 271, major: range(-3000, 1000, 1000), minor: range(-3400, 1400, 200),
      labels: range(-3000, 1000, 1000).map((v) => ({ v, node: minus(v) })) },
    { y: yVy, top: 271, bottom: 392.5, major: range(-2000, 2000, 1000), minor: range(-2400, 2400, 200),
      labels: range(-2000, 2000, 1000).map((v) => ({ v, node: minus(v) })) },
    { y: yVz, top: 392.5, bottom: 514, major: range(-2000, 2000, 1000), minor: range(-2400, 2400, 200),
      labels: range(-2000, 2000, 1000).map((v) => ({ v, node: minus(v) })) },
    { y: ySc, top: 514, bottom: 635.5, major: range(-2, 2, 1), minor: range(-2, 2, 0.1),
      labels: range(-2, 2, 1).map((v) => ({ v, node: minus(v) })) },
    { y: yN, top: 635.5, bottom: 757, major: [1e2, 1e3, 1e4, 1e5, 1e6],
      minor: [2, 3, 4, 5, 6, 7, 8, 9].flatMap((m) => [1e2, 1e3, 1e4, 1e5].map((p) => m * p)),
      labels: [2, 3, 4, 5, 6].map((k) => ({
        v: Math.pow(10, k),
        node: (<>10<tspan dy={-6} fontSize={10}>{k}</tspan></>),
      })) },
  ];

  const axisEls = axes.map((a, ai) => {
    const els: React.ReactNode[] = [];
    a.minor.forEach((v, i) => {
      const yy = a.y(v);
      if (yy < a.top - 0.1 || yy > a.bottom + 0.1) return;
      els.push(<line key={`mn${ai}l${i}`} x1={X0} x2={X0 + 9} y1={yy} y2={yy} stroke="#000" strokeWidth={1} />);
      els.push(<line key={`mn${ai}r${i}`} x1={X1} x2={X1 - 9} y1={yy} y2={yy} stroke="#000" strokeWidth={1} />);
    });
    a.major.forEach((v, i) => {
      const yy = a.y(v);
      els.push(<line key={`mj${ai}l${i}`} x1={X0} x2={X0 + 21} y1={yy} y2={yy} stroke="#000" strokeWidth={1} />);
      els.push(<line key={`mj${ai}r${i}`} x1={X1} x2={X1 - 21} y1={yy} y2={yy} stroke="#000" strokeWidth={1} />);
    });
    a.labels.forEach((l, i) => {
      const yy = Math.min(Math.max(a.y(l.v), a.top + 4.5), a.bottom - 5.5);
      els.push(
        <text key={`lb${ai}_${i}`} x={87} y={yy} textAnchor="end" dominantBaseline="central"
          fontSize={15} fontFamily={FONT} fill="#111">{l.node}</text>,
      );
    });
    UT_TICKS.forEach((t, i) => {
      els.push(<line key={`tt${ai}_${i}`} x1={x(t)} x2={x(t)} y1={a.top} y2={a.top + 5} stroke="#000" />);
      els.push(<line key={`tb${ai}_${i}`} x1={x(t)} x2={x(t)} y1={a.bottom} y2={a.bottom - 5} stroke="#000" />);
    });
    return <g key={`ax${ai}`}>{els}</g>;
  });

  const zeroLine = (yy: number, key: string) => (
    <line key={key} x1={X0} x2={X1} y1={yy} y2={yy} stroke="#000" strokeWidth={1} strokeDasharray="1 2.5" />
  );

  const idmBar = (yy: number, key: string) =>
    IDM_MODE.map((m, i) => (
      <rect key={`${key}${i}`} x={x(m[0])} y={yy} width={x(m[1]) - x(m[0])} height={3.6} fill={IDM_COLOR[m[2]]} />
    ));

  const rowNames = ['UT', 'MLAT', 'MLT', 'GLAT', 'GLONG', 'ALT', 'SZA'];
  const rows = [UT_LABELS, MLAT, MLT, GLAT, GLONG, ALT, SZA];
  const rowY = [771, 782.2, 793.4, 804.6, 815.8, 827, 838.2];

  const qualityBarX = [223, 331, 442, 551, 658];
  const qualityLabelX = [246, 356, 467, 573, 680];
  const idmBarX = [855, 965];
  const idmLabelX = [892, 1003];

  const txt = { fontFamily: FONT, fill: '#111' } as const;

  return (
    <svg width={1201} height={897} style={{ position: 'absolute', left: 0, top: 0, background: '#fff' }}>
      <rect x={0} y={0} width={1201} height={897} fill="#fff" />
      <defs>
        {PANELS.map((p) => (
          <clipPath key={p.id} id={`clip-${p.id}`}>
            <rect x={X0} y={p.top} width={X1 - X0} height={p.bottom - p.top} />
          </clipPath>
        ))}
        <pattern id="dense" width={2.4} height={10} patternUnits="userSpaceOnUse">
          <rect x={0} y={0} width={1.9} height={10} fill="#000" />
        </pattern>
        <pattern id="sparse" width={3} height={10} patternUnits="userSpaceOnUse">
          <rect x={0} y={0} width={1.3} height={10} fill="#111" />
        </pattern>
        <pattern id="sparseYellow" width={3} height={10} patternUnits="userSpaceOnUse">
          <rect x={0} y={0} width={1.5} height={10} fill={FLAG_COLOR[2]} />
        </pattern>
      </defs>

      <text x={633} y={20} textAnchor="middle" fontSize={16.5} {...txt} style={{ whiteSpace: 'pre' }}>
        {'PLASMA DATA    DMSP f16   YEAR: 2012   DAY: 146 (May 25)'}
      </text>

      {/* Temperature */}
      <g clipPath="url(#clip-temp)">
        <path d={line(yTemp, TE)} fill="none" stroke={LIGHT_ION_COLOR} strokeWidth={1.2} strokeDasharray="1 2" />
        {spikes(yTemp, TI_SPIKES, 'tis')}
        <path d={line(yTemp, TI)} fill="none" stroke="#000" strokeWidth={2} strokeLinejoin="round" />
        {dots(yTemp, TI_CAUTION, FLAG_COLOR[2], 'tic')}
      </g>
      <line x1={135} x2={180} y1={116.5} y2={116.5} stroke="#000" strokeWidth={1.2} />
      <text x={187} y={122} fontSize={15} {...txt}>T<tspan dy={4} fontSize={10}>I</tspan></text>
      <line x1={135} x2={180} y1={137} y2={137} stroke={LIGHT_ION_COLOR} strokeWidth={1.2} strokeDasharray="1 2" />
      <text x={187} y={142} fontSize={15} fontFamily={FONT} fill={LIGHT_ION_COLOR}>
        T<tspan dy={4} fontSize={10}>E</tspan>
      </text>

      {/* Vx */}
      {zeroLine(yVx(0), 'z-vx')}
      <g clipPath="url(#clip-vx)">
        <path d={area(yVx, VX_RAW_BAND)} fill="url(#dense)" />
        <path d={area(yVx, VX_RAW_NOISE)} fill="url(#sparse)" />
        <path d={area(yVx, VX_RAW_CAUTION_NOISE)} fill="url(#sparseYellow)" />
        <path d={area(yVx, VX_RAW_CAUTION_BAND)} fill={FLAG_COLOR[2]} />
        <path d={area(yVx, VX_RAW_BLOCK)} fill="url(#dense)" />
        {spikes(yVx, VX_RAW_SPIKES, 'vxs')}
        {flagged(yVx, VX_RAW, 'vxr', 1.4)}
        {VX_RAW_BAD_SPANS.map((s, i) => (
          <line key={`vxb${i}`} x1={x(s[0])} x2={x(s[1])} y1={yVx(VX_RAW_BAD_LEVEL)} y2={yVx(VX_RAW_BAD_LEVEL)}
            stroke={FLAG_COLOR[3]} strokeWidth={2} strokeDasharray="6 1.5" />
        ))}
        {flagged(yVx, VX_FILTERED, 'vxf', 1.8)}
        {dots(yVx, VX_CAUTION_DOTS, FLAG_COLOR[2], 'vxc')}
        {dots(yVx, VX_BAD_DOTS, FLAG_COLOR[3], 'vxd')}
      </g>
      <text x={1050} y={186} dominantBaseline="central" fontSize={13} {...txt}>Vx filtered</text>
      <text x={1050} y={223} dominantBaseline="central" fontSize={13} {...txt}>Vx raw (offset)</text>
      {idmBar(269.5, 'idm1')}

      {/* Vy */}
      {zeroLine(yVy(0), 'z-vy')}
      <g clipPath="url(#clip-vy)">
        {flagged(yVy, VY, 'vy', 1.6, 1.1)}
        {badMarks(yVy, VY, 'vym')}
      </g>

      {/* Vz */}
      {zeroLine(yVz(0), 'z-vz')}
      <g clipPath="url(#clip-vz)">
        {flagged(yVz, VZ, 'vz', 1.6, 1.1)}
        {badMarks(yVz, VZ, 'vzm')}
      </g>
      {idmBar(509.3, 'idm2')}

      {/* SC potential */}
      {zeroLine(ySc(0), 'z-sc')}
      <g clipPath="url(#clip-sc)">
        <path d={area(ySc, SC_BAND)} fill="url(#dense)" />
        <path d={area(ySc, SC_BLOCK_A)} fill="url(#dense)" />
        <path d={area(ySc, SC_BLOCK_B)} fill="url(#dense)" />
        <path d={area(ySc, SC_NOISE_A)} fill="url(#sparse)" />
        <path d={area(ySc, SC_NOISE_B)} fill="url(#sparse)" />
        {spikes(ySc, SC_SPIKES, 'scs')}
        {flagged(ySc, SC_POT, 'sc', 1.8)}
        {dots(ySc, SC_CAUTION_DOTS, FLAG_COLOR[2], 'scc', 1.6)}
        {dots(ySc, SC_BAD_DOTS, FLAG_COLOR[3], 'scb', 1.5)}
      </g>

      {/* Ion density */}
      <g clipPath="url(#clip-n)">
        <path d={line(yN, N_LIGHT)} fill="none" stroke={LIGHT_ION_COLOR} strokeWidth={1.2} strokeDasharray="1 2" />
        <path d={line(yN, N_TOTAL)} fill="none" stroke="#000" strokeWidth={2.2} strokeLinejoin="round" />
      </g>
      <line x1={137} x2={178} y1={659} y2={659} stroke={LIGHT_ION_COLOR} strokeWidth={1.2} strokeDasharray="1 2" />
      <text x={190} y={659} dominantBaseline="central" fontSize={10} fontFamily={FONT} fill={LIGHT_ION_COLOR}>
        Light Ions
      </text>
      <line x1={255} x2={298} y1={659} y2={659} stroke="#000" strokeWidth={1.2} />
      <text x={308} y={659} dominantBaseline="central" fontSize={10} {...txt}>Total ION Density</text>

      {/* frames and ticks */}
      {PANELS.map((p) => (
        <rect key={`f${p.id}`} x={X0} y={p.top} width={X1 - X0} height={p.bottom - p.top} fill="none"
          stroke="#000" strokeWidth={1} />
      ))}
      {axisEls}

      {/* axis titles */}
      <text transform="translate(37,90) rotate(-90)" textAnchor="middle" fontSize={14} {...txt}>Temp. (K)</text>
      <text transform="translate(30,211) rotate(-90)" textAnchor="middle" fontSize={14} {...txt}>
        V<tspan dy={4} fontSize={10}>x</tspan><tspan dy={-4}> (m s</tspan>
        <tspan dy={-6} fontSize={10}>{'\u22121'}</tspan><tspan dy={6}>)</tspan>
      </text>
      <text transform="translate(30,334) rotate(-90)" textAnchor="middle" fontSize={14} {...txt}>
        V<tspan dy={4} fontSize={10}>y</tspan><tspan dy={-4}> (m s</tspan>
        <tspan dy={-6} fontSize={10}>{'\u22121'}</tspan><tspan dy={6}>)</tspan>
      </text>
      <text transform="translate(30,456) rotate(-90)" textAnchor="middle" fontSize={14} {...txt}>
        V<tspan dy={4} fontSize={10}>z</tspan><tspan dy={-4}> (m s</tspan>
        <tspan dy={-6} fontSize={10}>{'\u22121'}</tspan><tspan dy={6}>)</tspan>
      </text>
      <text transform="translate(57,575) rotate(-90)" textAnchor="middle" fontSize={14} {...txt}
        style={{ whiteSpace: 'pre' }}>{'SC  Potential (V)'}</text>
      <text transform="translate(36,700) rotate(-90)" textAnchor="middle" fontSize={14} {...txt}>Ion</text>
      <text transform="translate(51,697) rotate(-90)" textAnchor="middle" fontSize={14} {...txt}>
        Density (cm<tspan dy={-6} fontSize={10}>{'\u22123'}</tspan><tspan dy={6}>)</tspan>
      </text>

      {/* ephemeris table */}
      {rowNames.map((n, i) => (
        <text key={`rn${i}`} x={89} y={rowY[i]} textAnchor="middle" dominantBaseline="central" fontSize={12.5}
          {...txt}>
          {n}
        </text>
      ))}
      {rows.map((r, ri) =>
        r.map((v, ci) => (
          <text key={`rv${ri}_${ci}`} x={x(UT_TICKS[ci])} y={rowY[ri]} textAnchor="middle"
            dominantBaseline="central" fontSize={12.5} {...txt}>{v}</text>
        )),
      )}
      <text x={1198} y={rowY[0]} textAnchor="end" dominantBaseline="central" fontSize={12.5} {...txt}>
        {UT_END_LABEL}
      </text>

      {/* legend */}
      <text x={150} y={859} textAnchor="middle" dominantBaseline="central" fontSize={13} {...txt}>
        DATA QUALITY FLAGS:
      </text>
      <text x={134} y={874} textAnchor="middle" dominantBaseline="central" fontSize={13} {...txt}>RPA and IDM</text>
      {QUALITY_NAMES.map((n, i) => (
        <g key={`q${i}`}>
          <rect x={qualityBarX[i]} y={855.5} width={45} height={7}
            fill={i === 4 ? UNKNOWN_COLOR : FLAG_COLOR[i]} />
          <text x={qualityLabelX[i]} y={877} textAnchor="middle" dominantBaseline="central" fontSize={13} {...txt}>
            {n}
          </text>
        </g>
      ))}
      <text x={808} y={859} textAnchor="middle" dominantBaseline="central" fontSize={13} {...txt}>IDM MODE:</text>
      <text x={800} y={876} textAnchor="middle" dominantBaseline="central" fontSize={13} {...txt}>
        (Horizontal Bars)
      </text>
      {IDM_NAMES.map((n, i) => (
        <g key={`im${i}`}>
          <rect x={idmBarX[i]} y={855.5} width={66} height={7} fill={IDM_COLOR[i]} />
          <text x={idmLabelX[i]} y={877} textAnchor="middle" dominantBaseline="central" fontSize={13} {...txt}>
            {n}
          </text>
        </g>
      ))}
      <text x={1188} y={889} textAnchor="end" dominantBaseline="central" fontSize={8.5} {...txt}>
        W. B. Hanson Center for Space Sciences, University of Texas at Dallas
      </text>
    </svg>
  );
}
